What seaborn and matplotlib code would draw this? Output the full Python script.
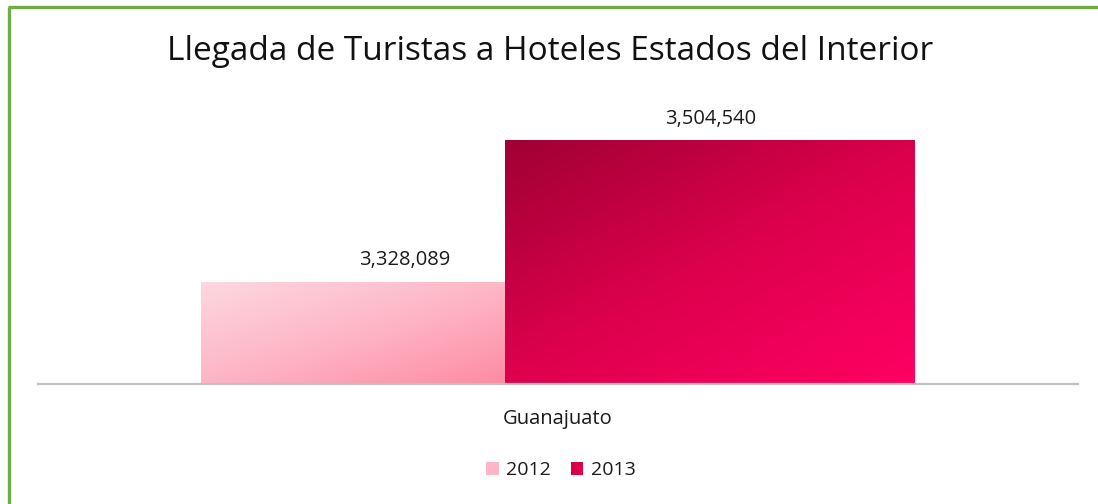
import numpy as np
import pandas as pd
import matplotlib
matplotlib.use("Agg")
import matplotlib.pyplot as plt
import seaborn as sns
from matplotlib.colors import LinearSegmentedColormap
from matplotlib.patches import Patch
from matplotlib.lines import Line2D

# ---- data ----
categories = ["Guanajuato"]
years = ["2012", "2013"]
values = [3328089, 3504540]
title = "Llegada de Turistas a Hoteles Estados del Interior"

df = pd.DataFrame({"Estado": categories * len(years), "Año": years, "Llegadas": values})

sns.set_style("white")
plt.rcParams["font.family"] = ["Open Sans", "DejaVu Sans"]

grad = {
    "2012": ["#FDD8E0", "#FEB6C6", "#FE8BA3"],
    "2013": ["#A00034", "#DC004C", "#FF0062"],
}
mid = [grad[y][1] for y in years]

fig = plt.figure(figsize=(10.98, 5.04), dpi=100)
ax = fig.add_axes([38 / 1098, 1 - 384 / 504, 1040 / 1098, 280 / 504])

sns.barplot(data=df, x="Estado", y="Llegadas", hue="Año", hue_order=years,
            palette=mid, width=0.588, ax=ax, legend=False, saturation=1)

ymin, ymax = 3200000, 3550000
ax.set_ylim(ymin, ymax)
ax.set_xlim(-0.5, 0.5)

for cont, v in zip(ax.containers, values):
    ax.bar_label(cont, labels=[f"{v:,}"], padding=8.5, fontsize=14.5, color="#1a1a1a")

# widen bars to match reference geometry
geom = [(-0.343, 0.2925), (-0.0505, 0.3935)]
for cont, (x0, w) in zip(ax.containers, geom):
    for p in cont.patches:
        p.set_x(x0)
        p.set_width(w)
        p.set_edgecolor("none")

# gradient fill
n = 256
u = np.linspace(0, 1, n)
U, V = np.meshgrid(u, u)
T = (U * 0.9 + V) / 1.9
for cont, yr in zip(ax.containers, years):
    cmap = LinearSegmentedColormap.from_list(yr, grad[yr])
    for p in cont.patches:
        x0 = p.get_x()
        x1 = x0 + p.get_width()
        top = p.get_y() + p.get_height()
        im = ax.imshow(T, cmap=cmap, extent=(x0, x1, ymin, top), origin="upper",
                       aspect="auto", zorder=3, interpolation="bilinear")
        im.set_clip_path(p)

ax.set_ylim(ymin, ymax)
ax.set_xlim(-0.5, 0.5)

sns.despine(ax=ax, left=True, top=True, right=True)
ax.spines["bottom"].set_color("#C0C0C0")
ax.spines["bottom"].set_linewidth(1.6)
ax.spines["bottom"].set_zorder(4)
ax.set_yticks([])
ax.tick_params(axis="x", length=0, pad=18, labelsize=14.5, labelcolor="#1a1a1a")
ax.set_xlabel("")
ax.set_ylabel("")

fig.text(550 / 1098, 1 - 52 / 504, title, ha="center", va="center",
         fontsize=24, color="#111111")

handles = [Patch(facecolor=m, edgecolor="none") for m in mid]
fig.legend(handles, years, loc="center", bbox_to_anchor=(561 / 1098, 1 - 470 / 504),
           ncol=2, frameon=False, fontsize=14, handlelength=0.65, handleheight=0.65,
           handletextpad=0.4, columnspacing=1.0, labelcolor="#1a1a1a")

# green outer border (left and top edges visible)
green = "#70AD47"
fig.add_artist(Line2D([9 / 1098, 9 / 1098], [0, 1 - 6.5 / 504], color=green, lw=2.4,
                      transform=fig.transFigure, solid_capstyle="butt"))
fig.add_artist(Line2D([7.8 / 1098, 1], [1 - 6.5 / 504, 1 - 6.5 / 504], color=green, lw=2.4,
                      transform=fig.transFigure, solid_capstyle="butt"))

fig.savefig("out.png", dpi=100)
